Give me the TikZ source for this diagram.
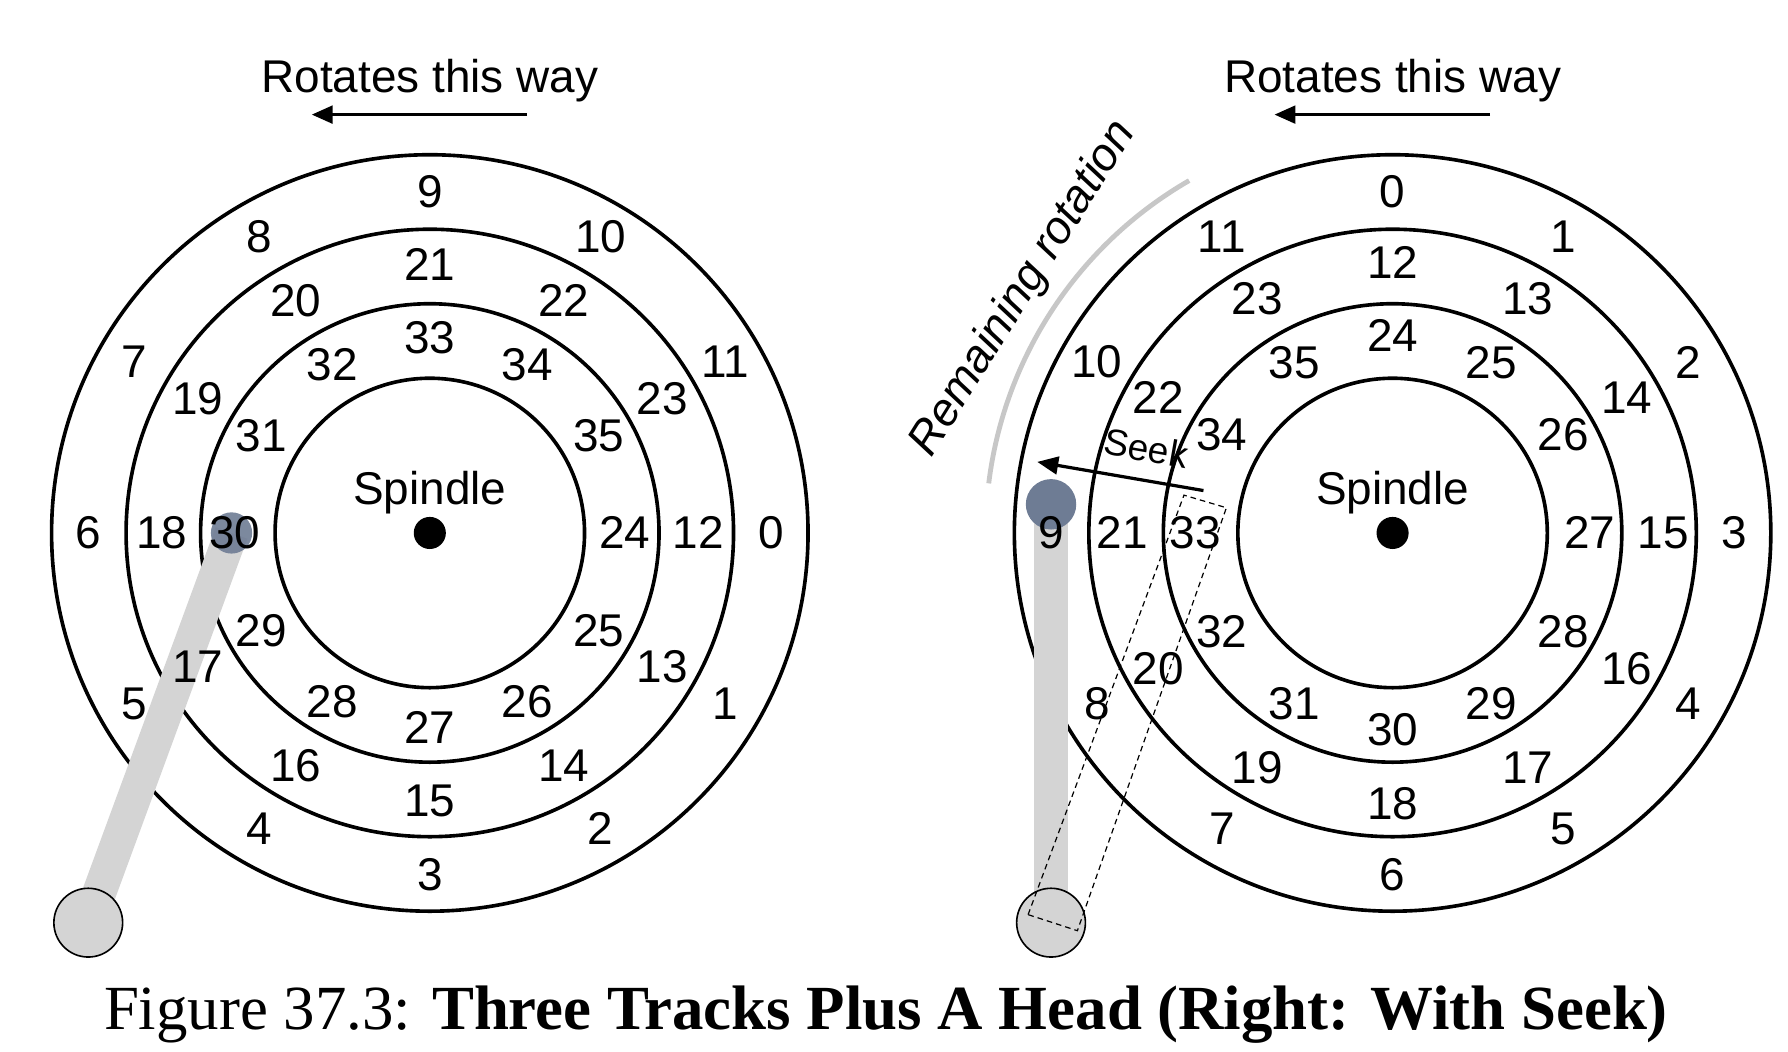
\documentclass[tikz,border=0pt]{standalone}
\usepackage{fontspec}
\setmainfont{Liberation Sans}
\newfontfamily\capfont{Liberation Serif}
\usetikzlibrary{arrows.meta,calc}
\begin{document}
\begin{tikzpicture}[x=0.05cm,y=-0.05cm,
  trk/.style={line width=4.5pt},
  num/.style={font=\fontsize{57}{58}\selectfont, inner sep=0pt},
  arm/.style={line width=42pt, draw=black!17},
  base/.style={circle,draw=black,line width=2pt,fill=black!17,inner sep=0pt,minimum width=3cm},
  headc/.style={circle,fill={rgb,255:red,110;green,124;blue,148},inner sep=0pt},
  arr/.style={line width=4pt,-{Triangle[length=26pt,width=22pt]}}]
\useasboundingbox (0,0) rectangle (1560,917);
% left disk
\coordinate (L) at (375,465);
\foreach \r in {330,265,200,135} \draw[trk] (L) circle[radius=\r];
\fill (L) circle[radius=14];
\coordinate (lhp) at (202,465);
\draw[arm] (77,805) -- (lhp);
\node[base] (lbase) at (77,805) {};
\node[headc,minimum width=1.8cm,opacity=0.9] (lhead) at (lhp) {};
\node[num] (lsp) at (375,430) {Spindle};
\foreach \i in {0,...,11} {
  \pgfmathtruncatemacro\m{\i+12}
  \pgfmathtruncatemacro\n{\i+24}
  \node[num] (lo\i) at ($(L)+({-30*\i}:298 and -298)$) {\i};
  \node[num] (lm\i) at ($(L)+({-30*\i}:234 and -234)$) {\m};
  \node[num] (li\i) at ($(L)+({-30*\i}:170 and -170)$) {\n};
}
\node[num] (lrot) at (375,70) {Rotates this way};
\coordinate (la1) at (460,100); \coordinate (la2) at (272,100);
\draw[arr] (la1) -- (la2);

% right disk
\coordinate (R) at (1215,465);
\foreach \r in {330,265,200,135} \draw[trk] (R) circle[radius=\r];
\fill (R) circle[radius=14];
\node[num] (rsp) at (1215,430) {Spindle};
\draw[line width=6pt,black!22] ($(R)+(120:355 and -355)$) arc[start angle=-120,end angle=-173,radius=355];
\node[num,rotate=58,font=\fontsize{57}{58}\selectfont\itshape] (rem) at (893,252) {Remaining rotation};
\draw[arm] (917,805) -- (917,440);
\node[base] (rbase) at (917,805) {};
\coordinate (d1) at (897,798); \coordinate (d2) at (1033,432);
\coordinate (d3) at (940,812); \coordinate (d4) at (1070,443);
\draw[line width=1.5pt,dash pattern=on 7pt off 5pt] (d1) -- (d2) -- (d4) -- (d3) -- cycle;
\node[headc,minimum width=2.2cm] (rhead) at (917,440) {};
\foreach \i in {0,...,11} {
  \pgfmathtruncatemacro\m{\i+12}
  \pgfmathtruncatemacro\n{\i+24}
  \node[num] (ro\i) at ($(R)+({90-30*\i}:298 and -298)$) {\i};
  \node[num] (rm\i) at ($(R)+({90-30*\i}:236 and -236)$) {\m};
  \node[num] (ri\i) at ($(R)+({90-30*\i}:172 and -172)$) {\n};
}
\coordinate (s1) at (1050,428); \coordinate (s2) at (905,403);
\draw[arr] (s1) -- (s2);
\node[num,rotate=-10,font=\fontsize{46}{46}\selectfont] (seek) at (1000,391) {Seek};
\node[num] (rrot) at (1215,70) {Rotates this way};
\coordinate (ra1) at (1300,100); \coordinate (ra2) at (1112,100);
\draw[arr] (ra1) -- (ra2);

\node[inner sep=0pt,font=\capfont\fontsize{78}{80}\selectfont] (cap) at (773,885) {Figure 37.3: \textbf{Three Tracks Plus A Head (Right: With Seek)}};
\end{tikzpicture}
\end{document}
